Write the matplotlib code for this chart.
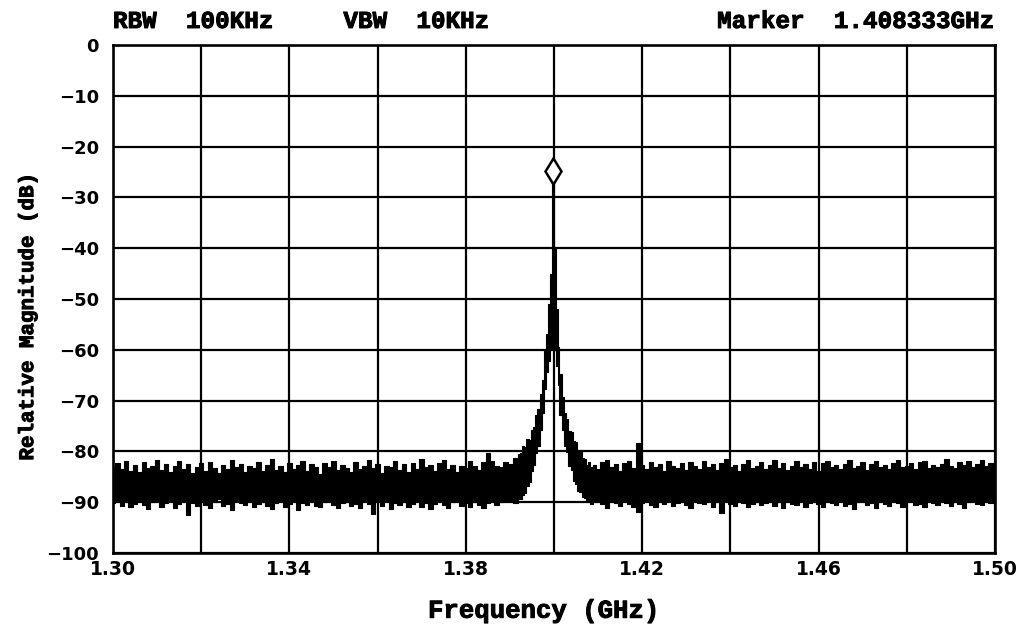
import numpy as np
import matplotlib
matplotlib.use("Agg")
import matplotlib.pyplot as plt
import matplotlib.patheffects as pe
from matplotlib.ticker import MultipleLocator

# !DANE Z ANALIZATORA WIDMA
# ?Szum tla po lewej stronie piku, 1.300 - 1.390 GHz co 1 MHz
FL_F = np.round(np.arange(1.300, 1.3905, 0.001), 4)
FL_U = np.array([
    -83.0, -82.2, -83.5, -81.8, -83.9, -82.6, -84.1, -82.0, -83.3, -82.8,
    -81.6, -83.7, -82.4, -84.0, -82.9, -81.9, -83.4, -82.5, -84.2, -83.1,
    -82.3, -83.8, -82.0, -83.2, -84.3, -82.7, -83.5, -81.7, -83.0, -82.4,
    -84.0, -82.8, -83.3, -82.1, -83.9, -82.6, -81.5, -83.6, -82.9, -84.1,
    -82.2, -83.4, -82.7, -81.8, -83.8, -82.5, -83.1, -84.4, -82.3, -83.0,
    -81.9, -83.7, -82.6, -83.2, -84.0, -82.1, -83.5, -82.8, -81.6, -83.3,
    -82.4, -84.2, -82.9, -83.1, -81.8, -83.6, -82.5, -84.1, -82.2, -83.4,
    -81.4, -83.0, -82.7, -83.9, -82.3, -81.7, -83.5, -82.6, -84.0, -82.9,
    -83.2, -81.9, -82.8, -83.6, -82.1, -80.4, -81.8, -82.9, -83.0, -82.0, -82.4,
])
FL_L = np.array([
    -90.2, -89.6, -90.8, -89.9, -91.0, -90.3, -89.5, -90.6, -91.4, -90.0,
    -89.7, -90.9, -90.2, -89.8, -91.2, -90.4, -89.6, -92.6, -90.1, -90.7,
    -89.9, -90.5, -91.1, -90.0, -89.4, -90.8, -90.3, -91.5, -89.8, -90.2,
    -90.6, -89.7, -91.0, -90.4, -89.9, -90.7, -91.3, -90.1, -89.6, -90.9,
    -90.3, -89.8, -91.6, -90.2, -90.5, -89.5, -90.8, -91.0, -90.0, -89.7,
    -90.6, -91.2, -90.1, -89.9, -90.7, -90.4, -91.1, -89.8, -90.3, -92.4,
    -90.0, -90.8, -89.6, -91.3, -90.2, -90.6, -89.9, -91.0, -90.4, -89.7,
    -90.9, -90.1, -91.4, -90.3, -89.8, -90.6, -91.1, -90.0, -89.5, -90.7,
    -90.2, -91.0, -89.9, -90.5, -91.2, -90.1, -89.7, -90.6, -90.0, -89.8, -89.6,
])

# ?Pik sygnalu (gorna i dolna obwiednia), co 0.5 MHz
PK_F = np.array([1.3915, 1.3920, 1.3925, 1.3930, 1.3935, 1.3940, 1.3945, 1.3950,
                 1.3955, 1.3960, 1.3965, 1.3970, 1.3975, 1.3980, 1.3985, 1.3990,
                 1.3994, 1.3998, 1.4002, 1.4006, 1.4010, 1.4015, 1.4020, 1.4025,
                 1.4030, 1.4035, 1.4040, 1.4045, 1.4050, 1.4055, 1.4060, 1.4065,
                 1.4070, 1.4075, 1.4080, 1.4085])
PK_U = np.array([-81.2, -80.6, -80.3, -79.0, -79.2, -77.6, -77.8, -75.7,
                 -75.2, -72.9, -71.6, -68.7, -65.9, -60.0, -56.8, -51.0,
                 -45.0, -24.8, -40.0, -52.0, -59.5, -64.8, -69.2, -72.4,
                 -73.6, -75.9, -76.1, -77.9, -78.2, -79.8, -79.9, -81.3,
                 -81.4, -82.6, -82.1, -83.0])
PK_L = np.array([-90.1, -89.3, -89.4, -88.5, -88.1, -86.9, -86.1, -83.8,
                 -82.7, -80.3, -78.9, -75.8, -72.4, -67.8, -64.3, -62.3,
                 -60.0, -57.0, -60.0, -63.2, -67.0, -72.8, -75.7, -78.9,
                 -80.2, -82.8, -83.7, -85.8, -86.4, -87.8, -88.0, -89.0,
                 -89.2, -90.0, -89.7, -90.3])

# ?Szum tla po prawej stronie piku, 1.409 - 1.500 GHz co 1 MHz
FR_F = np.round(np.arange(1.409, 1.5005, 0.001), 4)
FR_U = np.array([
    -82.6,
    -83.4, -82.1, -81.7, -83.0, -82.5, -83.8, -82.2, -81.9, -83.3, -78.3,
    -82.7, -83.5, -82.0, -83.1, -82.4, -83.9, -81.8, -82.9, -83.2, -82.3,
    -83.6, -82.0, -82.8, -83.4, -81.9, -83.0, -82.5, -83.7, -82.2, -81.5,
    -83.1, -82.6, -83.9, -82.4, -81.7, -83.3, -82.8, -82.1, -83.5, -82.7,
    -81.6, -83.2, -82.3, -83.7, -82.9, -81.8, -83.0, -82.5, -83.4, -82.0,
    -83.8, -82.2, -81.9, -83.1, -82.6, -83.5, -82.4, -81.7, -83.2, -82.8,
    -82.1, -83.6, -82.5, -81.8, -83.0, -82.7, -83.4, -82.2, -81.6, -83.1,
    -82.9, -82.3, -83.5, -82.0, -81.9, -83.2, -82.6, -83.0, -82.4, -81.5,
    -82.8, -83.3, -82.1, -82.7, -81.8, -83.0, -82.4, -81.6, -82.9, -82.2,
    -82.5,
])
FR_L = np.array([
    -90.0,
    -89.6, -90.4, -91.2, -89.8, -90.1, -90.7, -89.5, -90.3, -90.9, -92.0,
    -90.2, -89.7, -90.5, -91.0, -89.9, -90.3, -89.6, -90.8, -90.1, -89.8,
    -90.6, -91.1, -89.7, -90.2, -90.4, -89.5, -90.9, -90.0, -92.1, -89.8,
    -90.3, -90.7, -89.6, -90.1, -91.0, -90.4, -89.9, -90.6, -90.2, -89.7,
    -90.8, -90.0, -91.2, -89.8, -90.3, -90.5, -89.6, -90.9, -90.1, -89.9,
    -90.4, -91.0, -89.7, -90.2, -90.6, -89.5, -90.8, -90.3, -91.3, -90.0,
    -89.8, -90.5, -90.1, -91.1, -89.9, -90.4, -90.7, -89.6, -90.2, -90.9,
    -90.0, -89.7, -90.6, -90.3, -91.0, -89.8, -90.2, -90.5, -89.6, -90.1,
    -90.7, -89.9, -90.4, -91.2, -90.0, -89.7, -90.3, -90.6, -89.8, -90.2,
    -90.0,
])

X_TICKS = [1.30, 1.34, 1.38, 1.42, 1.46, 1.50]
Y_TICKS = [0, -10, -20, -30, -40, -50, -60, -70, -80, -90, -100]
HEADER = ["RBW  100KHz", "VBW  10KHz", "Marker  1.408333GHz"]

MONO = ["Liberation Mono", "DejaVu Sans Mono"]
HEAVY = [pe.withStroke(linewidth=0.7, foreground="black")]


# !WIZUALIZACJA DANYCH
def plot_spectrum():
    freq = np.concatenate([FL_F, PK_F, FR_F])
    upper = np.concatenate([FL_U, PK_U, FR_U])
    lower = np.concatenate([FL_L, PK_L, FR_L])
    order = np.argsort(freq)
    freq, upper, lower = freq[order], upper[order], lower[order]

    fig = plt.figure(figsize=(10.16, 6.30), dpi=100)
    ax = fig.add_axes([0.1112, 0.1222, 0.8681, 0.8064])

    ax.fill_between(freq, lower, upper, step="mid", color="black", lw=0.8,
                    edgecolor="black", zorder=3)

    # znacznik na szczycie piku
    i_pk = np.argmax(upper)
    ax.plot(freq[i_pk], upper[i_pk], marker="d", ms=13, mfc="white",
            mec="black", mew=1.8, zorder=4)

    ax.set_xlim(1.30, 1.50)
    ax.set_ylim(-100, 0)
    ax.set_xticks(X_TICKS)
    ax.set_xticklabels([f"{t:.2f}" for t in X_TICKS])
    ax.xaxis.set_minor_locator(MultipleLocator(0.02))
    ax.set_yticks(Y_TICKS)
    ax.set_yticklabels([str(t).replace("-", "\u2212") for t in Y_TICKS])
    ax.tick_params(which="both", length=0)
    ax.tick_params(axis="y", pad=10)
    ax.tick_params(axis="x", pad=5)
    for lab in ax.get_xticklabels() + ax.get_yticklabels():
        lab.set_fontfamily("DejaVu Sans")
        lab.set_fontweight("bold")
        lab.set_fontsize(13)
    for lab in ax.get_xticklabels():
        lab.set_fontsize(13.5)

    ax.grid(which="both", color="black", lw=1.6)
    ax.set_axisbelow(True)
    for sp in ax.spines.values():
        sp.set_linewidth(1.9)

    xl = ax.set_xlabel("Frequency (GHz)", family=MONO, weight="bold",
                       fontsize=18.5)
    yl = ax.set_ylabel("Relative Magnitude (dB)", family=MONO, weight="bold",
                       fontsize=15)
    ax.xaxis.set_label_coords(0.489, -0.09)
    ax.yaxis.set_label_coords(-0.086, 0.465)
    xl.set_path_effects(HEAVY)
    yl.set_path_effects(HEAVY)

    xs = [0.1112, 0.338, 0.977]
    has = ["left", "left", "right"]
    for txt, x, ha in zip(HEADER, xs, has):
        fig.text(x, 0.9556, txt, family=MONO, weight="bold", fontsize=17.5,
                 ha=ha, va="baseline", path_effects=HEAVY)

    fig.savefig("out.png", dpi=100)


plot_spectrum()
